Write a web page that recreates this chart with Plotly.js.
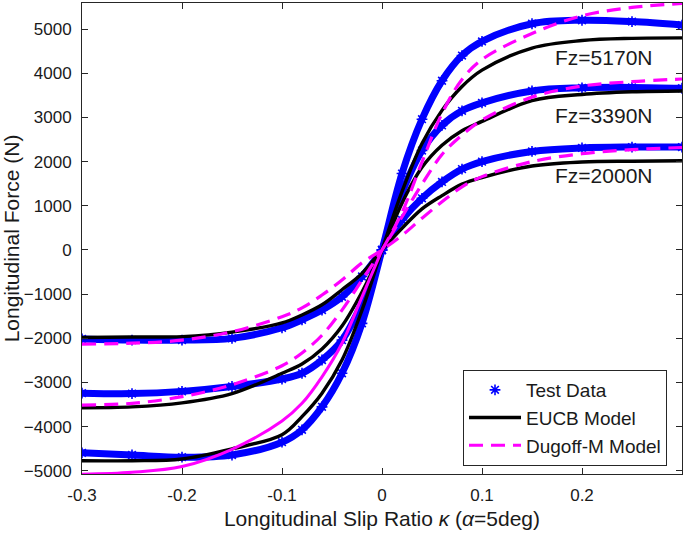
<!DOCTYPE html>
<html>
<head>
<meta charset="utf-8">
<script src="https://cdn.plot.ly/plotly-3.0.1.min.js"></script>
<style>html,body{margin:0;padding:0;background:#fff;}#chart{width:685px;height:535px;}</style>
</head>
<body>
<div id="chart"></div>
<script>
// Longitudinal slip ratio (kappa) sample points
const kappa = [-0.3,-0.25,-0.2,-0.15,-0.1,-0.08,-0.06,-0.04,-0.02,0,0.02,0.04,0.06,0.08,0.1,0.15,0.2,0.25,0.3];

// Fz = 2000 N
const test2000 = [-2015,-2040,-2040,-2000,-1760,-1580,-1360,-1060,-600,0,680,1170,1540,1830,2000,2230,2310,2330,2330];
const eucb2000 = [-1980,-1970,-1960,-1860,-1650,-1470,-1240,-900,-530,0,490,930,1230,1490,1640,1900,1990,2010,2020];
const dug2000  = [-2130,-2110,-2040,-1850,-1510,-1310,-1020,-680,-290,0,330,720,1090,1430,1660,2000,2180,2270,2320];

// Fz = 3390 N
const test3390 = [-3240,-3250,-3200,-3090,-2920,-2790,-2490,-2040,-1200,0,1300,2250,2820,3150,3330,3600,3670,3680,3660];
const eucb3390 = [-3570,-3550,-3460,-3250,-2790,-2580,-2240,-1720,-950,0,1060,1870,2370,2700,2910,3380,3520,3580,3600];
const dug3390  = [-3510,-3470,-3320,-3050,-2620,-2330,-1930,-1360,-680,0,750,1490,2160,2600,2940,3460,3710,3810,3870];

// Fz = 5170 N
const test5170 = [-4590,-4640,-4690,-4640,-4350,-4070,-3550,-2790,-1660,0,1730,2960,3830,4400,4720,5120,5200,5170,5090];
const eucb5170 = [-4770,-4770,-4730,-4500,-4180,-3770,-3240,-2490,-1360,0,1320,2410,3160,3700,4070,4570,4740,4790,4800];
const dug5170  = [-5075,-5030,-4900,-4510,-3870,-3470,-2870,-2110,-1060,0,850,1990,3090,3860,4310,4900,5300,5490,5580];

const xTicks = [-0.3,-0.2,-0.1,0,0.1,0.2];
const xTickText = ['-0.3','-0.2','-0.1','0','0.1','0.2'];
const yTicks = [-5000,-4000,-3000,-2000,-1000,0,1000,2000,3000,4000,5000];
const loadLabels = ['Fz=5170N','Fz=3390N','Fz=2000N'];

const BLUE = '#0000ff', MAG = '#ff00ff', FONT = 'Liberation Sans, Arial, Helvetica, sans-serif';
const tests = [test2000, test3390, test5170];
const eucbs = [eucb2000, eucb3390, eucb5170];
const traces = [];

// Test data: dense band + asterisk markers
tests.forEach((t) => {
  traces.push({x: kappa, y: t, mode: 'lines', line: {color: BLUE, width: 7, shape: 'spline'}, showlegend: false, hoverinfo: 'skip'});
});
tests.forEach((t, i) => {
  traces.push({x: kappa, y: t, mode: 'markers', name: 'Test Data', showlegend: i === 0,
    marker: {symbol: 'asterisk-open', size: 9, color: BLUE, line: {color: BLUE, width: 1.6}}});
});
// EUCB model
eucbs.forEach((e, i) => {
  traces.push({x: kappa, y: e, mode: 'lines', name: 'EUCB Model', showlegend: i === 0,
    line: {color: '#000', width: 3.4, shape: 'spline'}});
});
// Dugoff-M model
const dashStyle = '14px,8px';
traces.push({x: kappa, y: dug2000, mode: 'lines', name: 'Dugoff-M Model', showlegend: true,
  line: {color: MAG, width: 3.2, dash: dashStyle, shape: 'spline'}});
traces.push({x: kappa, y: dug3390, mode: 'lines', name: 'Dugoff-M Model', showlegend: false,
  line: {color: MAG, width: 3.2, dash: dashStyle, shape: 'spline'}});
const zi = kappa.indexOf(0);
traces.push({x: kappa.slice(0, zi + 1), y: dug5170.slice(0, zi + 1), mode: 'lines', showlegend: false,
  line: {color: MAG, width: 3, shape: 'spline'}});
traces.push({x: kappa.slice(zi), y: dug5170.slice(zi), mode: 'lines', showlegend: false,
  line: {color: MAG, width: 3.2, dash: dashStyle, shape: 'spline'}});

const axisCommon = {
  showline: true, linecolor: '#262626', linewidth: 1, mirror: 'ticks',
  ticks: 'inside', ticklen: 6, tickwidth: 1, tickcolor: '#262626',
  showgrid: false, zeroline: false,
  tickfont: {family: FONT, size: 17, color: '#1a1a1a'}
};

const layout = {
  width: 685, height: 535,
  margin: {l: 82, r: 3, t: 3, b: 61},
  paper_bgcolor: '#fff', plot_bgcolor: '#fff',
  font: {family: FONT, color: '#1a1a1a'},
  xaxis: Object.assign({}, axisCommon, {
    range: [-0.3, 0.3], tickvals: xTicks, ticktext: xTickText, ticklabelstandoff: 6,
    title: {text: 'Longitudinal Slip Ratio <i>κ</i> (<i>α</i>=5deg)', font: {family: FONT, size: 21, color: '#1a1a1a'}, standoff: 6}
  }),
  yaxis: Object.assign({}, axisCommon, {
    range: [-5070, 5590], tickvals: yTicks, ticklabelstandoff: 6,
    title: {text: 'Longitudinal Force (N)', font: {family: FONT, size: 21, color: '#1a1a1a'}, standoff: 4}
  }),
  legend: {
    x: 0.975, xanchor: 'right', y: 0.017, yanchor: 'bottom',
    bgcolor: '#fff', bordercolor: '#262626', borderwidth: 1,
    font: {family: FONT, size: 19, color: '#1a1a1a'},
    itemwidth: 52, tracegroupgap: 0
  },
  annotations: [
    {x: 0.171, y: 4366, xref: 'x', yref: 'y', text: loadLabels[0], showarrow: false, xanchor: 'left', yanchor: 'middle', font: {family: FONT, size: 21, color: '#1a1a1a'}},
    {x: 0.171, y: 3054, xref: 'x', yref: 'y', text: loadLabels[1], showarrow: false, xanchor: 'left', yanchor: 'middle', font: {family: FONT, size: 21, color: '#1a1a1a'}},
    {x: 0.171, y: 1697, xref: 'x', yref: 'y', text: loadLabels[2], showarrow: false, xanchor: 'left', yanchor: 'middle', font: {family: FONT, size: 21, color: '#1a1a1a'}}
  ]
};

Plotly.newPlot('chart', traces, layout, {staticPlot: true, displayModeBar: false});
</script>
</body>
</html>
